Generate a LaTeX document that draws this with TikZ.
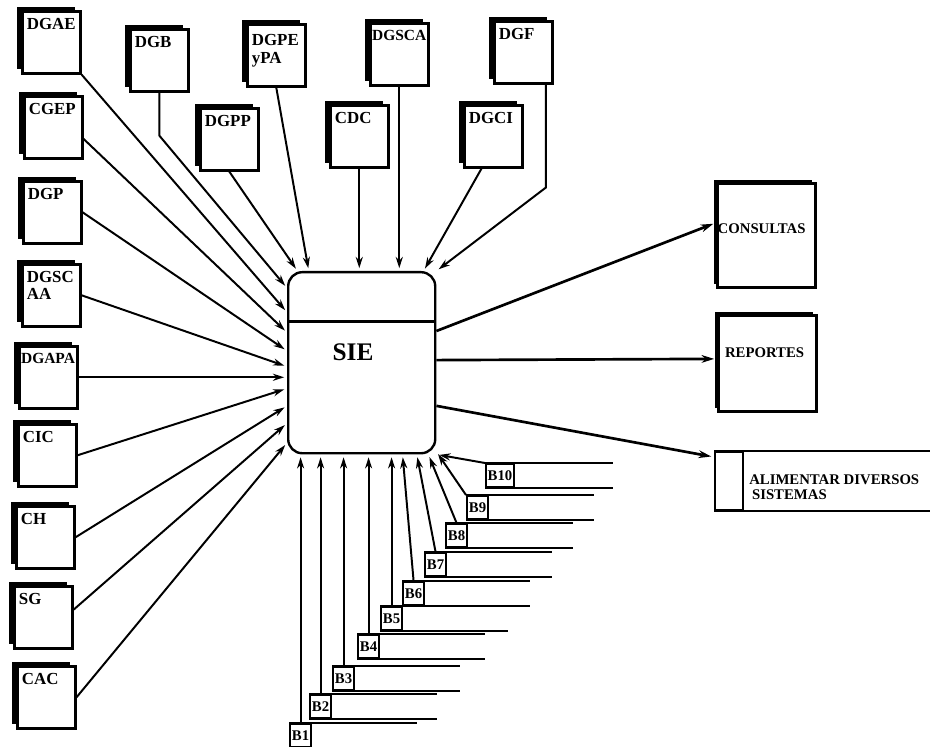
\documentclass[tikz,border=0pt]{standalone}
\usepackage{fontspec}
\setmainfont{Liberation Serif}
\usetikzlibrary{arrows.meta,shadows,calc}

\tikzset{
  unit/.style={draw, line width=1.8pt, fill=white, inner sep=0pt, anchor=north west,
    minimum width=1.45cm, minimum height=1.55cm,
    general shadow={fill=black, shadow xshift=-3.5pt, shadow yshift=3pt}},
  unitname/.style={anchor=north west, inner xsep=4pt, inner ysep=5.5pt, align=left,
    font=\fontsize{12}{12.5}\selectfont\bfseries},
  outbox/.style={draw, line width=1.8pt, fill=white, inner sep=0pt, anchor=north west,
    general shadow={fill=black, shadow xshift=-2.5pt, shadow yshift=2pt}},
  outname/.style={anchor=west, inner ysep=0pt, font=\fontsize{10.5}{10.5}\selectfont\bfseries},
  bank/.style={draw, line width=1.4pt, inner sep=1.2pt, anchor=north west,
    minimum width=0.53cm, minimum height=0.57cm, font=\fontsize{10.5}{11}\selectfont\bfseries},
  feed/.style={line width=1.4pt, -{Stealth[length=8pt,width=5pt]}, shorten >=2pt},
  result/.style={line width=1.9pt, -{Stealth[length=9pt,width=5.5pt]}, shorten >=2pt}
}

\begin{document}
\begin{tikzpicture}[x=0.025cm,y=-0.025cm]
  \useasboundingbox (0,0) rectangle (933,747);

  % sistema central
  \node[draw, line width=1.7pt, rounded corners=10pt, anchor=north west, inner sep=0pt,
    minimum width=3.675cm, minimum height=4.525cm] (sie) at (287,271) {};
  \draw[line width=1.7pt] ($(sie.north west)!.276!(sie.south west)$) -- ($(sie.north east)!.276!(sie.south east)$);
  \node[font=\fontsize{18}{20}\selectfont\bfseries] (sietxt) at (353,352) {SIE};

  % dependencias, columna izquierda
  \node[unit, label={[unitname]north west:DGAE}] (dgae) at (21,10) {};
  \node[unit, label={[unitname]north west:CGEP}] (cgep) at (23,95) {};
  \node[unit, label={[unitname]north west:DGP}] (dgp) at (22,180) {};
  \node[unit, label={[unitname]north west:DGSC\\AA}] (dgscaa) at (21,263) {};
  \node[unit, label={[unitname, inner xsep=2pt, font=\fontsize{11}{12}\selectfont\bfseries]north west:DGAPA}] (dgapa) at (18,345) {};
  \node[unit, label={[unitname]north west:CIC}] (cic) at (17,423) {};
  \node[unit, label={[unitname]north west:CH}] (ch) at (15,505) {};
  \node[unit, label={[unitname]north west:SG}] (sg) at (13,585) {};
  \node[unit, label={[unitname]north west:CAC}] (cac) at (16,665) {};

  % dependencias, arriba
  \node[unit, label={[unitname]north west:DGB}] (dgb) at (129,28) {};
  \node[unit, label={[unitname, inner ysep=8pt]north west:DGPE\\yPA}] (dgpe) at (246,23) {};
  \node[unit, label={[unitname]north west:DGPP}] (dgpp) at (199,107) {};
  \node[unit, label={[unitname]north west:CDC}] (cdc) at (329,104) {};
  \node[unit, label={[unitname, inner xsep=2pt, font=\fontsize{11}{12}\selectfont\bfseries]north west:DGSCA}] (dgsca) at (369,22) {};
  \node[unit, label={[unitname]north west:DGCI}] (dgci) at (463,104) {};
  \node[unit, label={[unitname]north west:DGF}] (dgf) at (493,20) {};

  \draw[feed] (dgae.south east) -- (sie.146.6);
  \draw[feed] (cgep.-21) -- (sie.158.1);
  \draw[feed] (dgp.east) -- (sie.171.1);
  \draw[feed] (dgscaa.east) -- (sie.183.5);
  \draw[feed] (dgapa.east) -- (dgapa.east -| sie.west);
  \draw[feed] (cic.east) -- (sie.199.8);
  \draw[feed] (ch.east) -- (sie.210.6);
  \draw[feed] (sg.14) -- (sie.219.5);
  \draw[feed] (cac.east) -- (sie.227.9);

  \draw[feed] (dgb.south) -- ++(0,43) -- (sie.135.4);
  \draw[feed] (dgpp.south) -- (sie.125.9);
  \draw[feed] (dgpe.south) -- (sie.120.1);
  \draw[feed] (cdc.south) -- (cdc.south |- sie.north);
  \draw[feed] (dgsca.south) -- (dgsca.south |- sie.north);
  \draw[feed] (dgci.-110) -- (sie.56.2);
  \draw[feed] (dgf.-55) -- ++(0,103) -- (sie.north east);

  % bases de datos
  \foreach \i/\x/\y in {1/289/723, 2/309/694, 3/332/666, 4/357/634, 5/380/606,
                        6/402/581, 7/424/552, 8/445/523, 9/466/495, 10/485/463} {
    \node[bank] (b\i) at (\x,\y) {B\i};
    \draw[line width=1.4pt] (b\i.north west) -- ++(128,0);
    \draw[line width=1.4pt] (b\i.south west) -- ++(128,0);
  }
  \foreach \i in {1,...,5}
    \draw[feed] (b\i.north) -- (b\i.north |- sie.south);
  \foreach \i/\a in {6/294.6, 7/301.1, 8/306.3}
    \draw[feed] (b\i.north) -- (sie.\a);
  \draw[feed] (b9.north west) -- (sie.310.2);
  \draw[feed] (b10.north west) -- (sie.south east);

  % salidas
  \node[outbox, minimum width=2.45cm, minimum height=2.6cm,
    label={[outname, inner xsep=1pt]172:CONSULTAS}] (cons) at (716,182) {};
  \node[outbox, minimum width=2.45cm, minimum height=2.4cm,
    label={[outname, inner xsep=5.5pt]168.5:REPORTES}] (rep) at (717,314) {};
  \node[draw, line width=1.4pt, anchor=north west, inner sep=0pt,
    minimum width=0.7cm, minimum height=1.45cm] (alim) at (714,451) {};
  \draw[line width=1.4pt] (alim.north west) -- ++(216,0);
  \draw[line width=1.4pt] (alim.south west) -- ++(216,0);
  \node[anchor=west, align=left, inner sep=0pt, font=\fontsize{10.5}{10.5}\selectfont\bfseries]
    (alimtxt) at ($(alim.east)+(5,6)$) {ALIMENTAR DIVERSOS\\\hspace*{2pt}SISTEMAS};

  \draw[result] (sie.23.2) -- (cons.166.2);
  \draw[result] (sie.2) -- (rep.175.3);
  \draw[result] (sie.330.5) -- (alim.122.5);
\end{tikzpicture}
\end{document}
